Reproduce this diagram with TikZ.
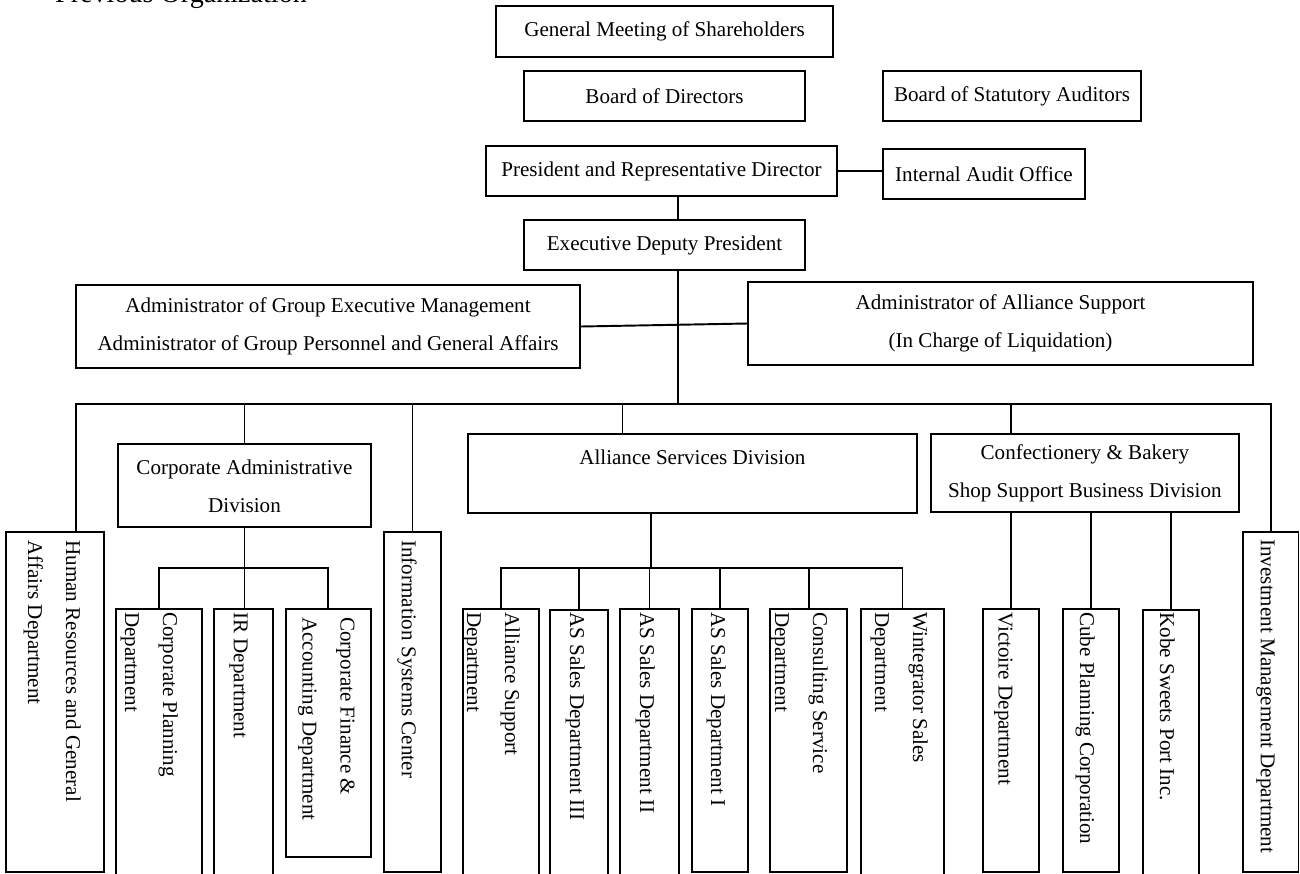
\documentclass[tikz,border=0pt]{standalone}
\usepackage{fontspec}
\setmainfont{Liberation Serif}
\usetikzlibrary{fit}

\tikzset{
  unit/.style={draw, line width=1.1pt, inner sep=0pt, align=center},
  dept/.style={rotate=-90, anchor=north west, align=left, inner sep=0pt},
  link/.style={line width=1.1pt},
}

\begin{document}
\begin{tikzpicture}[x=0.02cm, y=-0.02cm, font=\fontsize{12}{21.6}\selectfont]
        \path[use as bounding box, clip] (0,0) rectangle (1300,873);
        %% Title
        \node[anchor=base west, font=\fontsize{16}{19}\selectfont] (title) at (49,2.7) {Previous Organization};
        %% Top management
        \node[unit, minimum width=6.74cm, minimum height=1.02cm] (gms) at (664.5,31.5) {General Meeting of Shareholders};
        \node[unit, minimum width=5.62cm, minimum height=1cm] (bod) at (664.5,96) {Board of Directors};
        \node[unit, minimum width=5.16cm, minimum height=1cm] (bsa) at (1012,96) {Board of Statutory Auditors};
        \node[unit, minimum width=7.02cm, minimum height=1cm] (pres) at (661.5,171) {President and Representative Director};
        \node[unit, minimum width=4.04cm, minimum height=1cm] (iao) at (984,174) {Internal Audit Office};
        \node[unit, minimum width=5.62cm, minimum height=1cm] (edp) at (664.5,245) {Executive Deputy President};
        \node[unit, minimum width=10.08cm, minimum height=1.66cm] (agem) at (328,326.5) {Administrator of Group Executive Management\\Administrator of Group Personnel and General Affairs};
        \node[unit, minimum width=10.1cm, minimum height=1.66cm] (aas) at (1000.5,323.5) {Administrator of Alliance Support\\(In Charge of Liquidation)};
        %% Divisions
        \node[unit, minimum width=5.048cm, minimum height=1.66cm] (cad) at (244.5,485.8) {Corporate Administrative\\Division};
        \node[unit, fit={(468,434.3) (916.7,513.3)}] (asd) {};
        \node[anchor=base] (asdlabel) at (692.3,464.3) {Alliance Services Division};
        \node[unit, minimum width=6.166cm, minimum height=1.548cm] (cbd) at (1084.85,473) {Confectionery \& Bakery\\Shop Support Business Division};
        %% Departments
        \node[unit, fit={(6,532.3) (104.3,871.7)}] (hr) {};
        \node[unit, fit={(116,609.3) (202.3,880)}] (cpd) {};
        \node[unit, fit={(214,609.3) (272.7,880)}] (ir) {};
        \node[unit, fit={(286,609.3) (370.7,856.7)}] (cfa) {};
        \node[unit, fit={(384.3,532.3) (440.7,871.7)}] (isc) {};
        \node[unit, fit={(463.3,609.3) (538.7,880)}] (asup) {};
        \node[unit, fit={(550.3,610) (608.3,880)}] (as3) {};
        \node[unit, fit={(620.3,609.3) (678.7,880)}] (as2) {};
        \node[unit, fit={(692.3,609) (748.3,871.7)}] (as1) {};
        \node[unit, fit={(770.3,609) (847.3,871.7)}] (cons) {};
        \node[unit, fit={(860.7,609.3) (944.3,880)}] (wint) {};
        \node[unit, fit={(982.7,609.3) (1039,871.7)}] (vict) {};
        \node[unit, fit={(1063,609.3) (1119,871.7)}] (cube) {};
        \node[unit, fit={(1142.7,610) (1199,880)}] (kobe) {};
        \node[unit, fit={(1242.7,532.3) (1298.5,871.7)}] (inv) {};
        %% Department names
        \node[dept] (hrname) at (81,540) {Human Resources and General\\Affairs Department};
        \node[dept] (cpdname) at (178,612) {Corporate Planning\\Department};
        \node[dept] (irname) at (248,612) {IR Department};
        \node[dept] (cfaname) at (355,617) {Corporate Finance \&\\Accounting Department};
        \node[dept] (iscname) at (417,540) {Information Systems Center};
        \node[dept] (asupname) at (520,612) {Alliance Support\\Department};
        \node[dept] (as3name) at (585,612) {AS Sales Department III};
        \node[dept] (as2name) at (655,612) {AS Sales Department II};
        \node[dept] (as1name) at (726,612) {AS Sales Department I};
        \node[dept] (consname) at (828,612) {Consulting Service\\Department};
        \node[dept] (wintname) at (928,612) {Wintegrator Sales\\Department};
        \node[dept] (victname) at (1013,612) {Victoire Department};
        \node[dept] (cubename) at (1095,612) {Cube Planning Corporation};
        \node[dept] (kobename) at (1175,612) {Kobe Sweets Port Inc.};
        \node[dept] (invname) at (1275,539) {Investment Management Department};
        %% Lines of command
        \draw[link] (pres.east) -- (pres.east -| iao.west);
        \coordinate (spine) at (678,404);
        \draw[link] (spine |- pres.south) -- (spine |- edp.north);
        \draw[link] (spine |- edp.south) -- (spine);
        \draw[link] (agem.east) -- (aas.west);
        %% main bus
        \coordinate (busL) at (76,404);
        \draw[link] (busL |- hr.north) -- (busL) -- (inv.north |- busL) -- (inv.north);
        \draw[link] (cad.north |- busL) -- (cad.north);
        \draw[link] (isc.north |- busL) -- (isc.north);
        \coordinate (asdtap) at (622.5,404);
        \draw[link] (asdtap) -- (asdtap |- asd.north);
        \coordinate (cbdtap) at (1010.7,404);
        \draw[link] (cbdtap) -- (cbdtap |- cbd.north);
        %% corporate administrative division
        \coordinate (cadbus) at (244.3,568.3);
        \draw[link] (cad.south) -- (cad.south |- ir.north);
        \draw[link] (cpd.north) |- (cadbus) -| (cfa.north);
        %% alliance services division
        \coordinate (asbus) at (650.7,568.3);
        \draw[link] (asbus |- asd.south) -- (asbus);
        \draw[link] (asup.north) |- (asbus) -| (wint.north);
        \draw[link] (as3.north |- asbus) -- (as3.north);
        \draw[link] (as2.north |- asbus) -- (as2.north);
        \draw[link] (as1.north |- asbus) -- (as1.north);
        \draw[link] (cons.north |- asbus) -- (cons.north);
        %% confectionery & bakery division
        \draw[link] (vict.north |- cbd.south) -- (vict.north);
        \draw[link] (cube.north |- cbd.south) -- (cube.north);
        \draw[link] (kobe.north |- cbd.south) -- (kobe.north);
\end{tikzpicture}
\end{document}
